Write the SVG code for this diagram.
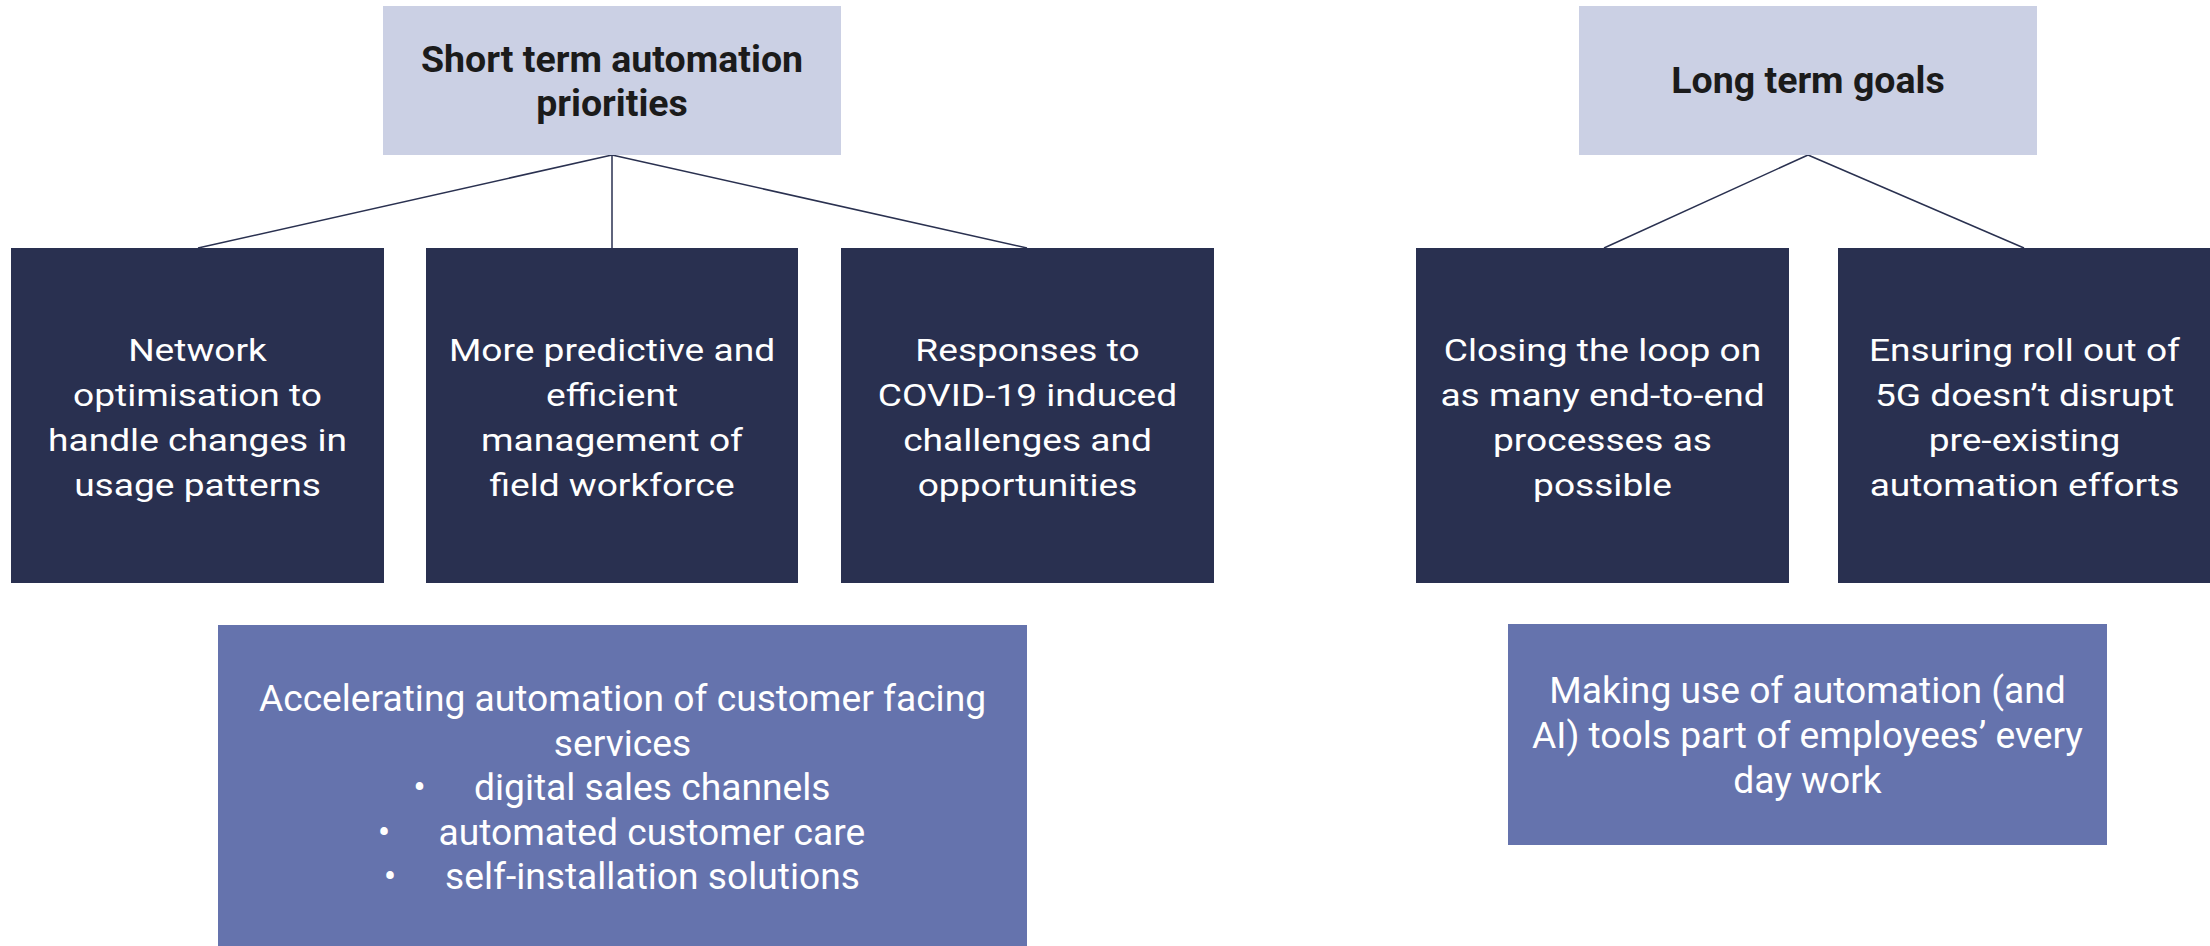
<svg xmlns="http://www.w3.org/2000/svg" width="2210" height="946" viewBox="0 0 2210 946">
  <style>
    .hdr { fill: #CBD0E4; }
    .dark { fill: #293050; }
    .mid { fill: #6573AD; }
    .hdr-t { font-family: Roboto, "Liberation Sans", sans-serif; font-weight: 700; font-size: 37.5px; fill: #1B1B1B; text-anchor: middle; }
    .dark-t { font-family: Roboto, "Liberation Sans", sans-serif; font-weight: 400; font-size: 32px; fill: #FFFFFF; text-anchor: middle; }
    .mid-t { font-family: Roboto, "Liberation Sans", sans-serif; font-weight: 400; font-size: 37.2px; fill: #FFFFFF; text-anchor: middle; }
    .mid-l { font-family: Roboto, "Liberation Sans", sans-serif; font-weight: 400; font-size: 37.2px; fill: #FFFFFF; text-anchor: start; }
    .bul { font-family: Roboto, "Liberation Sans", sans-serif; font-size: 37.2px; fill: #FFFFFF; text-anchor: middle; }
    .conn line { stroke: #2A3150; stroke-width: 1.5; }
  </style>
  <rect width="2210" height="946" fill="#FFFFFF"/>

  <!-- connectors -->
  <g id="connectors" class="conn">
    <line x1="612" y1="155" x2="198" y2="248"/>
    <line x1="612" y1="155" x2="612" y2="248"/>
    <line x1="612" y1="155" x2="1027" y2="248"/>
    <line x1="1808" y1="155" x2="1604" y2="248"/>
    <line x1="1808" y1="155" x2="2024" y2="248"/>
  </g>

  <!-- short term branch -->
  <g id="short-term">
    <rect class="hdr" x="383" y="6" width="458" height="149"/>
    <text class="hdr-t"><tspan x="612" y="72">Short term automation</tspan><tspan x="612" y="116">priorities</tspan></text>
  </g>

  <g id="network-optimisation">
    <rect class="dark" x="11" y="248" width="373" height="335"/>
    <g transform="translate(197.5 0) scale(1.16 1)">
      <text class="dark-t"><tspan x="0" y="361">Network</tspan><tspan x="0" y="406">optimisation to</tspan><tspan x="0" y="451">handle changes in</tspan><tspan x="0" y="496">usage patterns</tspan></text>
    </g>
  </g>

  <g id="field-workforce">
    <rect class="dark" x="426" y="248" width="372" height="335"/>
    <g transform="translate(612 0) scale(1.16 1)">
      <text class="dark-t"><tspan x="0" y="361">More predictive and</tspan><tspan x="0" y="406">efficient</tspan><tspan x="0" y="451">management of</tspan><tspan x="0" y="496">field workforce</tspan></text>
    </g>
  </g>

  <g id="covid-responses">
    <rect class="dark" x="841" y="248" width="373" height="335"/>
    <g transform="translate(1027.5 0) scale(1.16 1)">
      <text class="dark-t"><tspan x="0" y="361">Responses to</tspan><tspan x="0" y="406">COVID-19 induced</tspan><tspan x="0" y="451">challenges and</tspan><tspan x="0" y="496">opportunities</tspan></text>
    </g>
  </g>

  <g id="customer-facing">
    <rect class="mid" x="218" y="625" width="809" height="330"/>
    <text class="mid-t"><tspan x="622.5" y="711">Accelerating automation of customer facing</tspan><tspan x="622.5" y="755.5">services</tspan></text>
    <text class="bul"><tspan x="419.5" y="800">•</tspan><tspan x="384" y="844.5">•</tspan><tspan x="390" y="889">•</tspan></text>
    <text class="mid-l"><tspan x="474" y="800">digital sales channels</tspan><tspan x="438.5" y="844.5">automated customer care</tspan><tspan x="445" y="889">self-installation solutions</tspan></text>
  </g>

  <!-- long term branch -->
  <g id="long-term">
    <rect class="hdr" x="1579" y="6" width="458" height="149"/>
    <text class="hdr-t" x="1808" y="93">Long term goals</text>
  </g>

  <g id="closing-loop">
    <rect class="dark" x="1416" y="248" width="373" height="335"/>
    <g transform="translate(1602.5 0) scale(1.16 1)">
      <text class="dark-t"><tspan x="0" y="361">Closing the loop on</tspan><tspan x="0" y="406">as many end-to-end</tspan><tspan x="0" y="451">processes as</tspan><tspan x="0" y="496">possible</tspan></text>
    </g>
  </g>

  <g id="5g-rollout">
    <rect class="dark" x="1838" y="248" width="373" height="335"/>
    <g transform="translate(2024.5 0) scale(1.16 1)">
      <text class="dark-t"><tspan x="0" y="361">Ensuring roll out of</tspan><tspan x="0" y="406">5G doesn’t disrupt</tspan><tspan x="0" y="451">pre-existing</tspan><tspan x="0" y="496">automation efforts</tspan></text>
    </g>
  </g>

  <g id="employee-tools">
    <rect class="mid" x="1508" y="624" width="599" height="221"/>
    <text class="mid-t"><tspan x="1807.5" y="703">Making use of automation (and</tspan><tspan x="1807.5" y="748">AI) tools part of employees’ every</tspan><tspan x="1807.5" y="793">day work</tspan></text>
  </g>
</svg>
